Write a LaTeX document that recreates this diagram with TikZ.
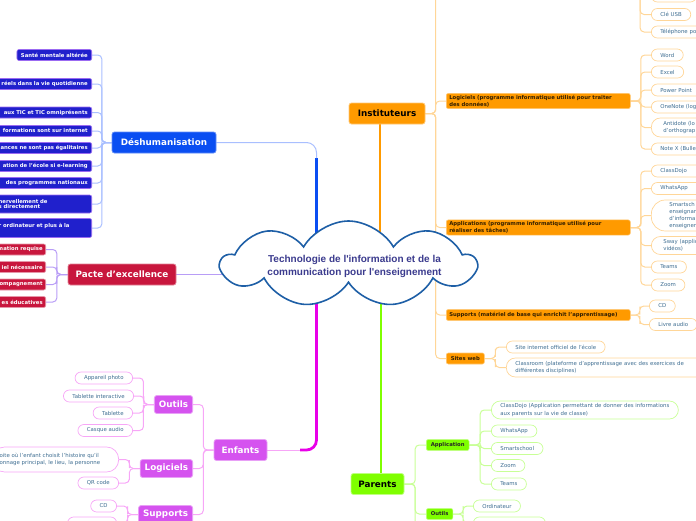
\documentclass[tikz,border=0pt]{standalone}
\usepackage{fontspec}
\setmainfont{DejaVu Sans}
\newfontfamily\cloudfont{Liberation Sans}
\usetikzlibrary{positioning,calc,shapes.symbols,backgrounds}

\definecolor{dshblue}{HTML}{0A4EF2}
\definecolor{dshleaf}{HTML}{2020CC}
\definecolor{dshrim}{HTML}{9B6BF2}
\definecolor{dshlink}{HTML}{A9BFFF}
\definecolor{pctred}{HTML}{C8163D}
\definecolor{pctlink}{HTML}{B89DF6}
\definecolor{enfpink}{HTML}{D553EF}
\definecolor{enftrunk}{HTML}{E800E8}
\definecolor{enflink}{HTML}{F7A6F7}
\definecolor{insorange}{HTML}{FF9A00}
\definecolor{inslink}{HTML}{FFD698}
\definecolor{pargreen}{HTML}{7FFF00}
\definecolor{parlink}{HTML}{C8FF96}
\definecolor{leaftext}{HTML}{3F6E92}
\definecolor{cloudrim}{HTML}{1E5FA6}
\definecolor{cloudtext}{HTML}{3B3B8E}

\begin{document}
\begin{tikzpicture}[x=1pt,y=-1pt,
  topic/.style={rectangle,rounded corners=2.5pt,line width=.8pt,inner xsep=4pt,inner ysep=0pt,
    minimum height=21pt,font=\bfseries\fontsize{8.8}{10}\selectfont},
  sub/.style={rectangle,rounded corners=2pt,line width=.6pt,inner xsep=3pt,inner ysep=1.5pt,
    minimum height=11pt,font=\bfseries\fontsize{5.3}{5.8}\selectfont,align=left},
  leaf/.style={rectangle,rounded corners=6pt,draw,fill=white,line width=.7pt,text=leaftext,
    inner xsep=9pt,inner ysep=1.5pt,minimum height=12pt,font=\fontsize{5.4}{7.3}\selectfont,align=left},
  dleaf/.style={sub,fill=dshleaf,draw=dshrim,text=white,inner xsep=4pt},
  pcleaf/.style={sub,fill=pctred,draw=pctred!45!white,text=white},
  esub/.style={topic,fill=enfpink,draw=enfpink!55!white,text=white,minimum height=18pt,inner xsep=4.5pt},
  isub/.style={sub,fill=insorange,draw=insorange!55!white,text=black!80!insorange,
    font=\bfseries\fontsize{5.3}{7.2}\selectfont},
  psub/.style={sub,fill=pargreen,draw=pargreen!50!white,text=black!85,inner xsep=4.5pt},
  eleaf/.style={leaf,draw=enflink},
  ileaf/.style={leaf,draw=inslink},
  pleaf/.style={leaf,draw=parlink},
  cutl/.style={anchor=east,text width=#1,align=right},
  wrapl/.style={anchor=east,text width=#1,align=left},
  cutr/.style={anchor=west,text width=#1,align=left},
  hidden/.style={inner sep=0pt,minimum size=0pt},
  brl/.style={to path={-| ($(\tikztostart.west)!.5!(\tikztotarget.east)$) |- (\tikztotarget) \tikztonodes}},
  brr/.style={to path={-| ($(\tikztostart.east)!.5!(\tikztotarget.west)$) |- (\tikztotarget) \tikztonodes}},
  link/.style={line width=1pt,rounded corners=4pt},
  trunk/.style={line width=2.8pt}]
\useasboundingbox (0,0) rectangle (696,520);

% central topic
\node[cloud,cloud puffs=9,cloud puff arc=120,aspect=3,draw=cloudrim,fill=white,line width=1.6pt,
  minimum width=254pt,minimum height=86pt,inner sep=0pt] (ict) at (348.5,264) {};
\node[text=cloudtext,align=center,font=\cloudfont\bfseries\fontsize{10}{13}\selectfont] (ictlabel)
  at ($(ict.center)+(6,2)$) {Technologie de l'information et de la\\communication pour l'enseignement};

% Deshumanisation
\node[topic,fill=dshblue,draw=dshblue!65!white,text=white,minimum width=104pt] (desh) at (164,142.5) {Déshumanisation};
\node[dleaf,anchor=east] (d1) at (92,55) {Santé mentale altérée};
\node[dleaf,cutl=110pt] (d2) at (92,84) {réels dans la vie quotidienne};
\node[dleaf,cutl=110pt] (d3) at (92,112.5) {aux TIC et TIC omniprésents};
\node[dleaf,cutl=110pt] (d4) at (92,131) {formations sont sur internet};
\node[dleaf,cutl=110pt] (d5) at (92,148) {ances ne sont pas égalitaires};
\node[dleaf,cutl=110pt] (d6) at (92,166) {ation de l'école si e-learning};
\node[dleaf,cutl=110pt] (d7) at (92,183) {des programmes nationaux};
\node[dleaf,wrapl=89pt,minimum height=18pt] (d8) at (92,204) {nervellement de\\s directement};
\node[dleaf,wrapl=89pt,minimum height=19pt] (d9) at (92,228) {r ordinateur et plus à la\\\mbox{}};

% Pacte d'excellence
\node[topic,fill=pctred,draw=pctred!55!white,text=white,minimum width=108pt] (pacte) at (122,274.5) {Pacte d'excellence};
\node[pcleaf,cutl=60pt] (p1) at (46,249.5) {mation requise};
\node[pcleaf,cutl=60pt] (p2) at (46,267) {iel nécessaire};
\node[pcleaf,cutl=60pt] (p3) at (46,284.5) {ompagnement};
\node[pcleaf,cutl=60pt] (p4) at (46,302) {es éducatives};

% Enfants
\node[topic,fill=enfpink,draw=enfpink!55!white,text=white,minimum width=53pt] (enf) at (240.5,450) {Enfants};
\node[esub,anchor=east] (eout) at (193,404.5) {Outils};
\node[esub,anchor=east] (elog) at (193,468.5) {Logiciels};
\node[esub,anchor=east] (esup) at (193,514.5) {Supports};
\node[eleaf,anchor=east] (t1) at (133,378) {Appareil photo};
\node[eleaf,anchor=east] (t2) at (134,396) {Tablette interactive};
\node[eleaf,anchor=east] (t3) at (133,413) {Tablette};
\node[eleaf,anchor=east] (t4) at (133,430.5) {Casque audio};
\node[eleaf,wrapl=112pt,inner xsep=7pt,minimum height=25pt,rounded corners=12pt] (g1) at (119,459.5)
  {oite où l'enfant choisit l'histoire qu'il\\onnage principal, le lieu, la personne};
\node[eleaf,anchor=east] (g2) at (119,483) {QR code};
\node[eleaf,anchor=east] (u1) at (117,506) {CD};
\node[eleaf,anchor=east,minimum width=49pt] (u2) at (117,523) {};

% Instituteurs
\node[topic,fill=insorange,draw=insorange!55!white,text=black,minimum width=76pt] (inst) at (387,113.5) {Instituteurs};
\node[hidden] (matin) at (446,-30) {};
\node[hidden] (matout) at (629,-30) {};
\node[ileaf,anchor=west,minimum width=45pt] (m0) at (651,-4) {};
\node[ileaf,anchor=west] (m1) at (651,14.5) {Clé USB};
\node[ileaf,cutr=60pt] (m2) at (651,32) {Téléphone po};
\node[isub,cutr=178pt] (ilog) at (446,101) {Logiciels (programme informatique utilisé pour traiter\\des données)};
\node[ileaf,anchor=west] (w1) at (651,55) {Word};
\node[ileaf,anchor=west] (w2) at (651,72) {Excel};
\node[ileaf,cutr=60pt] (w3) at (651,90) {Power Point};
\node[ileaf,cutr=60pt] (w4) at (651,107) {OneNote (log};
\node[ileaf,cutr=60pt,inner xsep=12pt,minimum height=19pt,rounded corners=9pt] (w5) at (651,127.5) {Antidote (lo\\d'orthograp};
\node[ileaf,cutr=60pt] (w6) at (651,149) {Note X (Bulle};
\node[isub,cutr=178pt] (iapp) at (446,227.5) {Applications (programme informatique utilisé pour\\réaliser des tâches)};
\node[ileaf,cutr=60pt] (a1) at (651,171) {ClassDojo};
\node[ileaf,cutr=60pt] (a2) at (651,188.5) {WhatsApp};
\node[ileaf,cutr=60pt,inner xsep=18pt,minimum height=31pt,rounded corners=14pt,
  font=\fontsize{5.4}{6.7}\selectfont] (a3) at (651,215.5) {Smartsch\\enseignan\\d'informa\\enseignem};
\node[ileaf,cutr=60pt,inner xsep=12pt,minimum height=18pt,rounded corners=9pt] (a4) at (651,245.5) {Sway (applic\\vidéos)};
\node[ileaf,anchor=west] (a5) at (651,267) {Teams};
\node[ileaf,anchor=west] (a6) at (651,285) {Zoom};
\node[isub,cutr=178pt] (isup) at (446,315) {Supports (matériel de base qui enrichit l'apprentissage)};
\node[ileaf,anchor=west] (s1) at (649,306) {CD};
\node[ileaf,anchor=west] (s2) at (649,324.5) {Livre audio};
\node[isub,anchor=west,inner xsep=4.5pt] (iweb) at (446,358.5) {Sites web};
\node[ileaf,anchor=west] (s3) at (506,347) {Site internet officiel de l'école};
\node[ileaf,cutr=190pt,minimum height=19pt,rounded corners=9pt] (s4) at (506,367.5)
  {Classroom (plateforme d'apprentissage avec des exercices de\\différentes disciplines)};

% Parents
\node[topic,fill=pargreen,draw=pargreen!50!white,text=black,minimum width=53pt] (par) at (377.5,484) {Parents};
\node[psub,anchor=west] (papp) at (426,445) {Application};
\node[psub,anchor=west] (pout) at (426,514) {Outils};
\node[hidden] (parmore) at (426,545) {};
\node[pleaf,anchor=west,minimum height=18pt,rounded corners=9pt] (c1) at (491,410)
  {ClassDojo (Application permettant de donner des informations\\aux parents sur la vie de classe)};
\node[pleaf,anchor=west] (c2) at (491,431) {WhatsApp};
\node[pleaf,anchor=west] (c3) at (491,448.5) {Smartschool};
\node[pleaf,anchor=west] (c4) at (491,465.5) {Zoom};
\node[pleaf,anchor=west] (c5) at (491,484) {Teams};
\node[pleaf,anchor=west] (o1) at (473,506) {Ordinateur};
\node[pleaf,anchor=west,minimum width=72pt] (o2) at (473,523) {};

\begin{scope}[on background layer]
  % trunks from the central topic
  \coordinate (dbend) at (316.5,158);
  \coordinate (ebend) at (300,450);
  \coordinate (ibase) at ($(inst.south)+(-7,0)$);
  \coordinate (pbase) at ($(par.north)+(3.5,0)$);
  \draw[trunk,dshblue] ($(ict.center)+(-32,0)$) -- (dbend);
  \draw[link,dshlink,rounded corners=10pt] (dbend) |- (desh.east);
  \draw[trunk,enftrunk,rounded corners=10pt] ($(ict.center)+(-32,0)$) |- (ebend);
  \draw[link,enflink] (ebend) -- (enf.east);
  \draw[trunk,insorange] (ibase) -- (ibase |- ict.center);
  \draw[trunk,pargreen] (pbase) -- (pbase |- ict.center);
  \draw[link,pctlink] (ict.center |- pacte) -- (pacte.east);
  % branches
  \path[link,dshlink] (desh) edge[brl] (d1) edge[brl] (d2) edge[brl] (d3) edge[brl] (d4)
    edge[brl] (d5) edge[brl] (d6) edge[brl] (d7) edge[brl] (d8) edge[brl] (d9);
  \path[link,pctlink] (pacte) edge[brl] (p1) edge[brl] (p2) edge[brl] (p3) edge[brl] (p4);
  \path[link,enflink] (enf) edge[brl] (eout) edge[brl] (elog) edge[brl] (esup)
    (eout) edge[brl] (t1) edge[brl] (t2) edge[brl] (t3) edge[brl] (t4)
    (elog) edge[brl] (g1) edge[brl] (g2)
    (esup) edge[brl] (u1) edge[brl] (u2);
  \path[link,inslink] (inst) edge[brr] (matin) edge[brr] (ilog) edge[brr] (iapp)
      edge[brr] (isup) edge[brr] (iweb)
    (matout) edge[brr] (m0) edge[brr] (m1) edge[brr] (m2)
    (ilog) edge[brr] (w1) edge[brr] (w2) edge[brr] (w3) edge[brr] (w4) edge[brr] (w5) edge[brr] (w6)
    (iapp) edge[brr] (a1) edge[brr] (a2) edge[brr] (a3) edge[brr] (a4) edge[brr] (a5) edge[brr] (a6)
    (isup) edge[brr] (s1) edge[brr] (s2)
    (iweb) edge[brr] (s3) edge[brr] (s4);
  \path[link,parlink] (par) edge[brr] (papp) edge[brr] (pout) edge[brr] (parmore)
    (papp) edge[brr] (c1) edge[brr] (c2) edge[brr] (c3) edge[brr] (c4) edge[brr] (c5)
    (pout) edge[brr] (o1) edge[brr] (o2);
\end{scope}
\end{tikzpicture}
\end{document}
